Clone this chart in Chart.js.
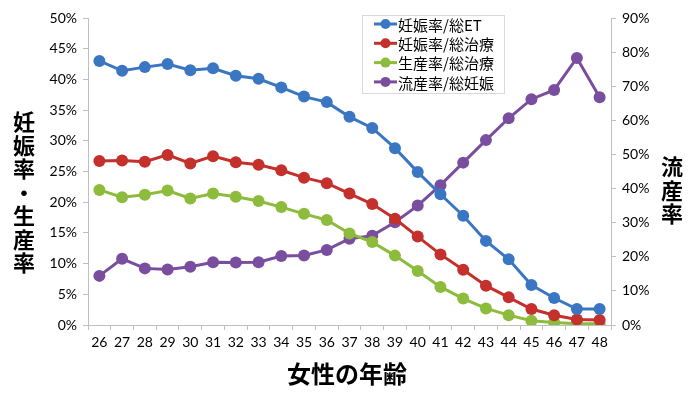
<!DOCTYPE html>
<html>
<head>
<meta charset="utf-8">
<script src="https://cdn.jsdelivr.net/npm/chart.js@4/dist/chart.umd.min.js"></script>
<style>
  html, body { margin: 0; padding: 0; background: #fff; }
  #wrap { width: 700px; height: 395px; position: relative; }
</style>
</head>
<body>
<div id="wrap"><canvas id="chart" width="700" height="395"></canvas></div>
<script>
// data
var ages = ['26','27','28','29','30','31','32','33','34','35','36','37','38','39','40','41','42','43','44','45','46','47','48'];
var pregPerET = [43.0,41.4,42.0,42.5,41.5,41.8,40.6,40.1,38.7,37.2,36.3,33.9,32.1,28.8,24.9,21.3,17.8,13.7,10.7,6.5,4.4,2.6,2.6];
var pregPerTx = [26.7,26.8,26.6,27.7,26.3,27.5,26.5,26.1,25.2,24.0,23.1,21.4,19.7,17.3,14.4,11.5,9.0,6.4,4.5,2.6,1.6,0.9,0.8];
var birthPerTx = [22.0,20.8,21.2,21.9,20.6,21.4,20.9,20.2,19.2,18.1,17.1,14.9,13.5,11.3,8.8,6.2,4.3,2.7,1.6,0.7,0.4,0.2,0.2];
var miscPerPreg = [14.4,19.4,16.6,16.3,17.1,18.4,18.3,18.4,20.2,20.4,22.0,25.3,26.2,30.1,35.0,41.0,47.6,54.2,60.6,66.2,68.9,78.3,66.8];

var seriesNames = ['妊娠率/総ET', '妊娠率/総治療', '生産率/総治療', '流産率/総妊娠'];
var seriesColors = ['#3a76c2', '#c4302b', '#8dbb3c', '#7a4e9f'];

var leftTitle = '妊娠率・生産率';
var rightTitle = '流産率';
var bottomTitle = '女性の年齢';

var cjk = '"Noto Sans CJK JP", sans-serif';
var tickFont = { family: 'Lato, "Open Sans", sans-serif', size: 14 };

function makeSet(i, values, axis) {
    return {
        label: seriesNames[i],
        data: values,
        yAxisID: axis,
        borderColor: seriesColors[i],
        backgroundColor: seriesColors[i],
        borderWidth: 3,
        pointRadius: 6,
        pointHoverRadius: 6,
        pointBorderWidth: 0,
        tension: 0
    };
}

// titles drawn as stacked characters, legend box inside the plot
var decorations = {
    id: 'decorations',
    afterDraw: function (chart) {
        var ctx = chart.ctx;
        ctx.save();
        ctx.fillStyle = '#000';
        ctx.textAlign = 'center';
        ctx.textBaseline = 'middle';
        ctx.font = 'bold 22px ' + cjk;
        var chars = Array.from(leftTitle);
        for (var i = 0; i < chars.length; i++) {
            ctx.fillText(chars[i], 24, 122 + i * 23.5);
        }
        chars = Array.from(rightTitle);
        for (var j = 0; j < chars.length; j++) {
            ctx.fillText(chars[j], 672, 167 + j * 23.5);
        }
        ctx.font = 'bold 24px ' + cjk;
        ctx.fillText(bottomTitle, 347, 374);

        // legend
        ctx.fillStyle = '#fff';
        ctx.fillRect(362, 15, 142, 78);
        ctx.strokeStyle = '#d9d9d9';
        ctx.lineWidth = 1;
        ctx.strokeRect(362.5, 15.5, 142, 78);
        ctx.font = '15px ' + cjk;
        ctx.textAlign = 'left';
        for (var k = 0; k < seriesNames.length; k++) {
            var y = 24 + k * 19.3;
            ctx.strokeStyle = seriesColors[k];
            ctx.lineWidth = 3;
            ctx.beginPath();
            ctx.moveTo(374, y);
            ctx.lineTo(397, y);
            ctx.stroke();
            ctx.fillStyle = seriesColors[k];
            ctx.beginPath();
            ctx.arc(385.5, y, 5, 0, Math.PI * 2);
            ctx.fill();
            ctx.fillStyle = '#000';
            ctx.fillText(seriesNames[k], 398, y + 1);
        }
        ctx.restore();
    }
};

var ctx = document.getElementById('chart').getContext('2d');
var chart = new Chart(ctx, {
    type: 'line',
    data: {
        labels: ages,
        datasets: [
            makeSet(0, pregPerET, 'y'),
            makeSet(1, pregPerTx, 'y'),
            makeSet(2, birthPerTx, 'y'),
            makeSet(3, miscPerPreg, 'y2')
        ]
    },
    options: {
        responsive: false,
        animation: false,
        layout: { padding: { top: 18, left: 0, right: 0, bottom: 0 } },
        plugins: {
            legend: { display: false },
            tooltip: { enabled: false }
        },
        scales: {
            x: {
                offset: true,
                grid: { offset: true, drawOnChartArea: false, color: '#bfbfbf', tickLength: 5 },
                border: { color: '#bfbfbf', width: 1 },
                ticks: { color: '#000', font: tickFont, maxRotation: 0, autoSkip: false, padding: 4 },
                afterFit: function (s) { s.height = 70; }
            },
            y: {
                position: 'left',
                min: 0,
                max: 50,
                grid: { drawOnChartArea: false, color: '#bfbfbf', tickLength: 5 },
                border: { color: '#bfbfbf', width: 1 },
                ticks: {
                    stepSize: 5,
                    color: '#000',
                    font: tickFont,
                    padding: 6,
                    callback: function (v) { return v + '%'; }
                },
                afterFit: function (s) { s.width = 88; }
            },
            y2: {
                position: 'right',
                min: 0,
                max: 90,
                grid: { drawOnChartArea: false, color: '#bfbfbf', tickLength: 5 },
                border: { color: '#bfbfbf', width: 1 },
                ticks: {
                    stepSize: 10,
                    color: '#000',
                    font: tickFont,
                    padding: 6,
                    callback: function (v) { return v + '%'; }
                },
                afterFit: function (s) { s.width = 89; }
            }
        }
    },
    plugins: [decorations]
});
</script>
</body>
</html>
